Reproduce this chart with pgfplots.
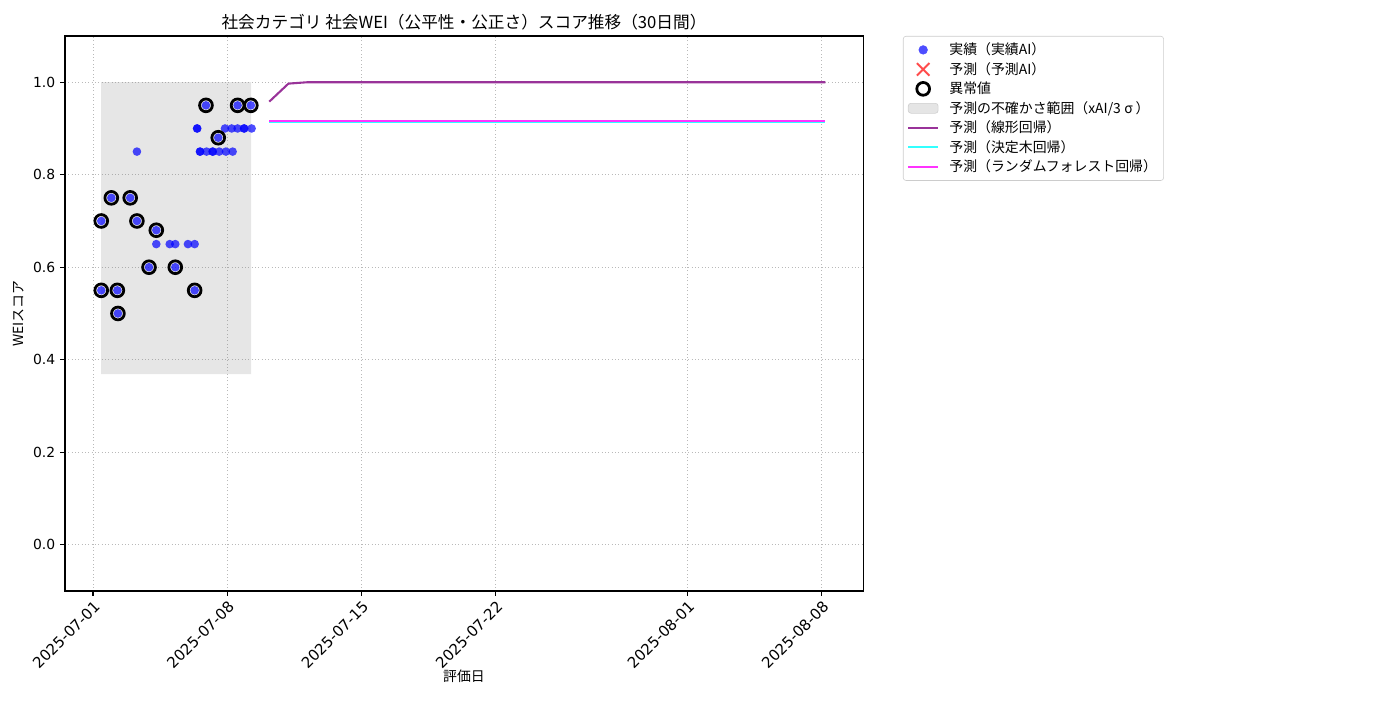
\documentclass[border=0pt]{standalone}
\usepackage{pgfplots}
\pgfplotsset{compat=1.18}
\usepackage{fontspec}
\setmainfont{Noto Sans CJK JP}
\newfontfamily\dejavu{DejaVu Sans}
\definecolor{mplpurple}{RGB}{153,51,153}
\definecolor{mplcyan}{RGB}{51,255,255}
\definecolor{mplmagenta}{RGB}{255,51,255}
\definecolor{mplblue}{RGB}{77,77,255}
\definecolor{legframe}{RGB}{204,204,204}

\pgfplotstableread{
x y
0.43 0.70
0.43 0.55
0.955 0.75
1.27 0.55
1.30 0.50
1.94 0.75
2.29 0.70
2.92 0.60
3.30 0.68
4.29 0.60
5.30 0.55
5.89 0.95
6.53 0.88
7.54 0.95
8.23 0.95
}\anomaly

\pgfplotstableread{
x y
2.29 0.85
3.30 0.65
4.00 0.65
4.29 0.65
4.95 0.65
5.30 0.65
5.43 0.90
5.43 0.90
5.58 0.85
5.58 0.85
5.92 0.85
6.24 0.85
6.24 0.85
6.58 0.85
6.93 0.85
7.28 0.85
6.88 0.90
7.23 0.90
7.54 0.90
7.88 0.90
7.88 0.90
8.27 0.90
}\normal

\pgfplotstableread{
x y
0.42 0.369
8.24 0.369
8.24 1.000
0.42 1.000
0.42 0.369
}\band

\pgfplotstableread{
x y
9.19 0.958
10.19 0.997
11.19 1.000
38.19 1.000
}\linear

\pgfplotstableread{
x y
9.19 0.914
38.19 0.914
}\tree

\pgfplotstableread{
x y
9.19 0.916
38.19 0.916
}\forest

\begin{document}
\begin{tikzpicture}
\useasboundingbox (0,0) rectangle (1008pt,504pt);
\begin{axis}[
  at={(46.8pt,78.5pt)}, anchor=south west,
  scale only axis, width=574.6pt, height=399.6pt,
  xmin=-1.46, xmax=40.15, ymin=-0.1, ymax=1.1,
  xtick={0,7,14,21,31,38},
  xticklabels={2025-07-01,2025-07-08,2025-07-15,2025-07-22,2025-08-01,2025-08-08},
  ytick={0,0.2,0.4,0.6,0.8,1.0},
  yticklabel style={/pgf/number format/.cd, fixed, fixed zerofill, precision=1, assume math mode=true},
  ticklabel style={font=\dejavu\fontsize{10}{12}\selectfont},
  xticklabel style={rotate=45, anchor=north east, inner sep=2pt, font=\dejavu\fontsize{10.8}{12}\selectfont},
  tick align=outside, xtick pos=bottom, ytick pos=left,
  major tick length=3.5pt,
  tick style={black, line width=0.8pt},
  axis line style={line width=0.8pt},
  grid=major, major grid style={dotted, line width=0.6pt, gray!55},
  title={社会カテゴリ 社会WEI（公平性・公正さ）スコア推移（30日間）},
  title style={font=\fontsize{12}{14}\selectfont, yshift=-5pt},
  xlabel={評価日}, ylabel={WEIスコア},
  label style={font=\fontsize{10}{12}\selectfont},
  xlabel style={at={(axis description cs:0.5,0)}, anchor=center, yshift=-61.2pt},
  legend style={at={(1.05,1)}, anchor=north west, draw=legframe, rounded corners=2pt,
    font=\fontsize{10}{12}\selectfont, row sep=0pt, inner sep=2.8pt,
    cells={anchor=west}},
  legend cell align=left,
]
\addlegendimage{legend image code/.code={
  \fill[mplblue] (10.8pt,0pt) circle (3.1pt); \path (0pt,0pt) (27.5pt,0pt);}}
\addlegendentry{実績（実績AI）}
\addlegendimage{legend image code/.code={
  \draw[red, draw opacity=0.7, line width=1.4pt] (6.3pt,-4.5pt) -- (15.3pt,4.5pt) (6.3pt,4.5pt) -- (15.3pt,-4.5pt); \path (0pt,0pt) (27.5pt,0pt);}}
\addlegendentry{予測（予測AI）}
\addlegendimage{legend image code/.code={
  \draw[black, line width=2pt] (10.8pt,0pt) circle (4.6pt); \path (0pt,0pt) (27.5pt,0pt);}}
\addlegendentry{異常値}
\addlegendimage{legend image code/.code={
  \draw[fill=gray, fill opacity=0.2, draw=gray, draw opacity=0.3] (0pt,-3.6pt) rectangle (21.6pt,3.6pt); \path (0pt,0pt) (27.5pt,0pt);}}
\addlegendentry{予測の不確かさ範囲（xAI/3\hspace{0.25em}σ\hspace{0.2em}）}
\addlegendimage{legend image code/.code={
  \draw[mplpurple, line width=1.5pt] (0pt,0pt) -- (21.6pt,0pt); \path (27.5pt,0pt);}}
\addlegendentry{予測（線形回帰）}
\addlegendimage{legend image code/.code={
  \draw[mplcyan, line width=1.5pt] (0pt,0pt) -- (21.6pt,0pt); \path (27.5pt,0pt);}}
\addlegendentry{予測（決定木回帰）}
\addlegendimage{legend image code/.code={
  \draw[mplmagenta, line width=1.5pt] (0pt,0pt) -- (21.6pt,0pt); \path (27.5pt,0pt);}}
\addlegendentry{予測（ランダムフォレスト回帰）}

\addplot[forget plot, draw=none, fill=gray, fill opacity=0.2] table {\band};
\addplot[forget plot, only marks, mark=*, mark size=3.1pt, mark options={draw opacity=0, fill=blue, fill opacity=0.7}] table {\normal};
\addplot[forget plot, only marks, mark=*, mark size=3.1pt, mark options={draw opacity=0, fill=blue, fill opacity=0.7}] table {\anomaly};
\addplot[forget plot, only marks, mark=o, mark size=4.6pt, mark options={draw=black, line width=2pt}] table {\anomaly};
\addplot[forget plot, mplcyan, line width=1.5pt] table {\tree};
\addplot[forget plot, mplmagenta, line width=1.5pt] table {\forest};
\addplot[forget plot, mplpurple, line width=1.5pt] table {\linear};
\end{axis}
\end{tikzpicture}
\end{document}
